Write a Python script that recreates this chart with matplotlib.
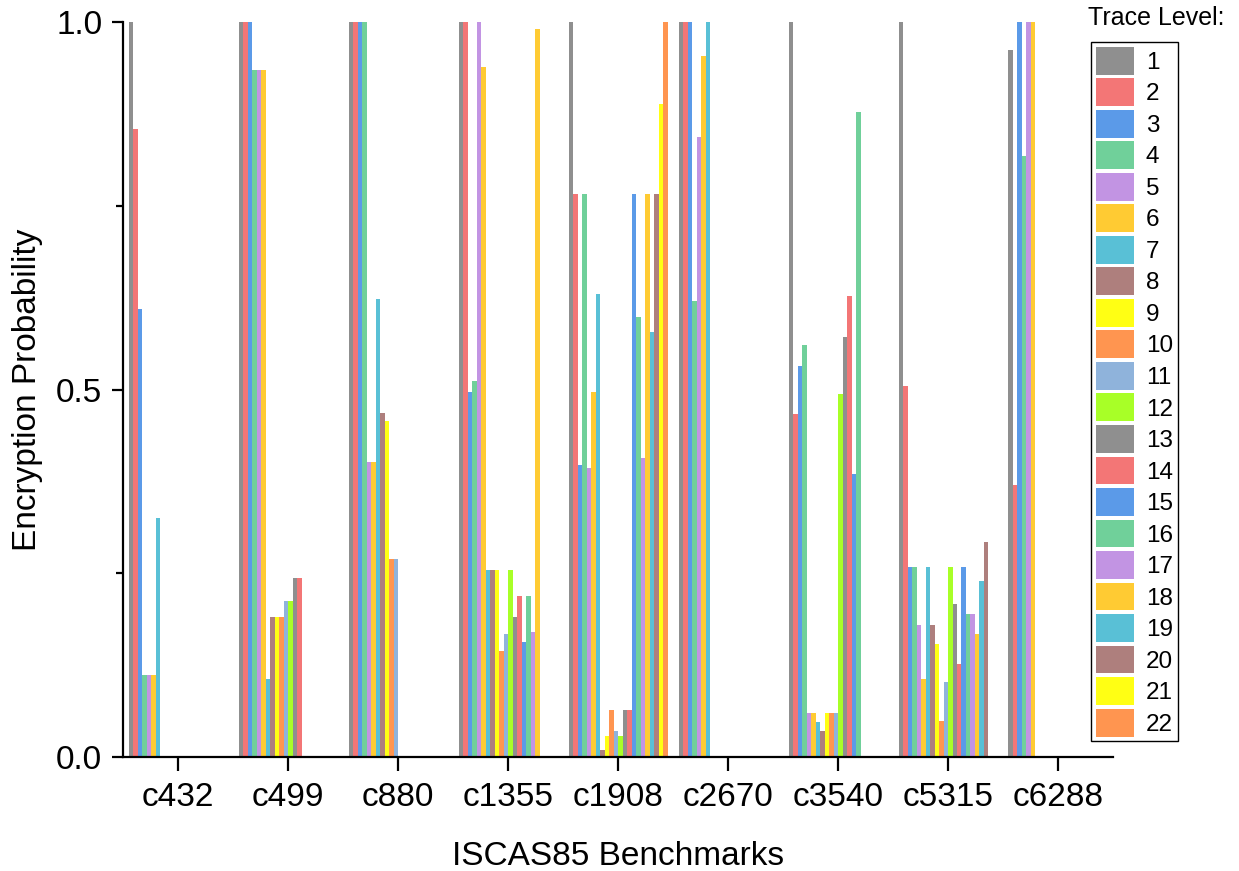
import numpy as np
import matplotlib
matplotlib.use("Agg")
import matplotlib.pyplot as plt

plt.rcParams['font.family'] = ['Liberation Sans', 'DejaVu Sans']

# benchmarks on the x axis
benchmarks = ['c432', 'c499', 'c880', 'c1355', 'c1908', 'c2670', 'c3540', 'c5315', 'c6288']

# encryption probability per trace level (1..22), one list per benchmark
c432 = [1.0, 0.855, 0.609, 0.111, 0.111, 0.111, 0.325]
c499 = [1.0, 1.0, 1.0, 0.935, 0.935, 0.935, 0.106, 0.191, 0.191, 0.191, 0.212, 0.212, 0.243, 0.243]
c880 = [1.0, 1.0, 1.0, 1.0, 0.401, 0.401, 0.623, 0.468, 0.457, 0.269, 0.269]
c1355 = [1.0, 1.0, 0.497, 0.512, 1.0, 0.939, 0.254, 0.254, 0.254, 0.144, 0.167,
         0.254, 0.191, 0.219, 0.157, 0.219, 0.170, 0.991]
c1908 = [1.0, 0.766, 0.397, 0.766, 0.393, 0.497, 0.630, 0.009, 0.028, 0.064, 0.036,
         0.029, 0.064, 0.064, 0.766, 0.598, 0.407, 0.766, 0.578, 0.766, 0.888, 1.0]
c2670 = [1.0, 1.0, 1.0, 0.620, 0.843, 0.954, 1.0]
c3540 = [1.0, 0.467, 0.532, 0.560, 0.060, 0.060, 0.047, 0.036, 0.060, 0.060, 0.060,
         0.494, 0.572, 0.627, 0.385, 0.878]
c5315 = [1.0, 0.505, 0.258, 0.258, 0.179, 0.106, 0.258, 0.179, 0.154, 0.049, 0.102,
         0.258, 0.208, 0.126, 0.258, 0.194, 0.194, 0.168, 0.240, 0.293]
c6288 = [0.962, 0.370, 1.0, 0.818, 1.0, 1.0]

trace_levels = [str(i) for i in range(1, 23)]

# Origin-style palette, repeats after 12
palette = ['#8f8f8f', '#f37676', '#5b9ae8', '#70d09a', '#c294e3', '#ffcb33',
           '#59c0d6', '#ae7f7d', '#ffff14', '#ff9550', '#8fb3db', '#a8ff27']
colors = [palette[i % len(palette)] for i in range(len(trace_levels))]

# pad each benchmark with zeros up to 22 levels
groups = [c432, c499, c880, c1355, c1908, c2670, c3540, c5315, c6288]
n_levels = len(trace_levels)
data = np.zeros((len(groups), n_levels))
for g, vals in enumerate(groups):
    data[g, :len(vals)] = vals

fig = plt.figure(figsize=(12.39, 8.71), dpi=100)
ax = fig.add_axes([0.0993, 0.1309, 0.799, 0.8438])

x = np.arange(len(benchmarks))
width = 0.9 / n_levels
for i in range(n_levels):
    offs = -0.45 + width * (i + 0.5)
    ax.bar(x + offs, data[:, i], width, color=colors[i], label=trace_levels[i],
           linewidth=0)

ax.set_xlim(-0.5, len(benchmarks) - 0.5)
ax.set_ylim(0, 1.0)
ax.set_xticks(x)
ax.set_xticklabels(benchmarks)
ax.set_yticks([0, 0.5, 1.0])
ax.set_yticklabels(['0.0', '0.5', '1.0'])
ax.set_yticks([0.25, 0.75], minor=True)

for side in ['top', 'right']:
    ax.spines[side].set_visible(False)
for side in ['left', 'bottom']:
    ax.spines[side].set_linewidth(1.6)
ax.tick_params(axis='both', which='major', direction='out', width=1.6, labelsize=24)
ax.tick_params(axis='x', which='major', length=10, pad=8)
ax.tick_params(axis='y', which='major', length=8, pad=7)
ax.tick_params(axis='y', which='minor', direction='out', width=1.6, length=5)

ax.set_xlabel('ISCAS85 Benchmarks', fontsize=24, labelpad=20)
ax.set_ylabel('Encryption Probability', fontsize=24, labelpad=9)

leg = fig.legend(loc='upper left', bbox_to_anchor=(0.8805, 0.9518), borderaxespad=0,
                 fontsize=17.5, fancybox=False, edgecolor='black', framealpha=1,
                 handlelength=1.56, handleheight=1.39, labelspacing=0.148,
                 handletextpad=0.5, borderpad=0.2)
leg.get_frame().set_linewidth(1)

fig.text(0.878, 0.979, 'Trace Level:', fontsize=18, ha='left', va='center')

fig.savefig('out.png', dpi=100)
